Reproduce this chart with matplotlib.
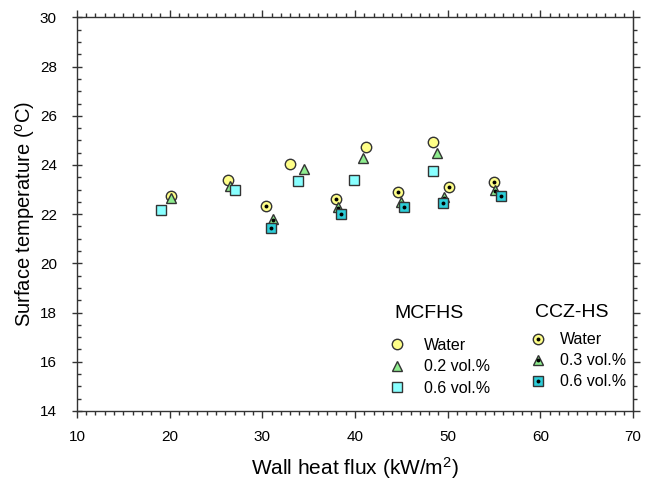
import matplotlib
matplotlib.use('Agg')
import matplotlib.pyplot as plt
from matplotlib.ticker import MultipleLocator, NullFormatter

plt.rcParams['font.family'] = ['Liberation Sans', 'DejaVu Sans']
plt.rcParams['mathtext.default'] = 'regular'

# MCFHS heat sink
mc_water_x = [20.1, 26.3, 33.0, 41.2, 48.4]
mc_water_y = [22.75, 23.4, 24.02, 24.74, 24.92]
mc_02_x = [20.1, 26.5, 34.5, 40.9, 48.8]
mc_02_y = [22.65, 23.15, 23.85, 24.3, 24.5]
mc_06_x = [19.1, 27.0, 33.8, 39.9, 48.4]
mc_06_y = [22.15, 23.0, 23.35, 23.4, 23.75]

# CCZ-HS heat sink
cz_water_x = [30.4, 37.9, 44.6, 50.1, 55.0]
cz_water_y = [22.32, 22.62, 22.9, 23.1, 23.32]
cz_03_x = [31.1, 38.2, 45.0, 49.6, 55.1]
cz_03_y = [21.82, 22.3, 22.5, 22.68, 23.0]
cz_06_x = [30.9, 38.5, 45.3, 49.5, 55.7]
cz_06_y = [21.45, 22.02, 22.28, 22.45, 22.72]

yellow = '#ffff88'
green = '#8eec8e'
cyan = '#88ffff'
cyan_dark = '#2ccdd8'
edge = '#333333'

fig = plt.figure(figsize=(6.52, 4.84), dpi=100)
ax = fig.add_axes([0.118, 0.151, 0.853, 0.813])

ms = 7.5
base = dict(ls='none', mec=edge, mew=1.0, ms=ms)
dot = dict(ls='none', marker='o', color='black', ms=2.8, mew=0)

h_mw, = ax.plot(mc_water_x, mc_water_y, marker='o', mfc=yellow, **base)
h_m2, = ax.plot(mc_02_x, mc_02_y, marker='^', mfc=green, **base)
h_m6, = ax.plot(mc_06_x, mc_06_y, marker='s', mfc=cyan, **base)

h_cw, = ax.plot(cz_water_x, cz_water_y, marker='o', mfc=yellow, **base)
d_cw, = ax.plot(cz_water_x, cz_water_y, **dot)
h_c3, = ax.plot(cz_03_x, cz_03_y, marker='^', mfc=green, **base)
d_c3, = ax.plot(cz_03_x, [v - 0.04 for v in cz_03_y], **dot)
h_c6, = ax.plot(cz_06_x, cz_06_y, marker='s', mfc=cyan_dark, **base)
d_c6, = ax.plot(cz_06_x, cz_06_y, **dot)

ax.set_xlim(10, 70)
ax.set_ylim(14, 30)
ax.xaxis.set_major_locator(MultipleLocator(10))
ax.xaxis.set_minor_locator(MultipleLocator(1))
ax.yaxis.set_major_locator(MultipleLocator(2))
ax.yaxis.set_minor_locator(MultipleLocator(0.5))

ax.tick_params(axis='both', which='major', labelsize=11, length=5, width=1, color=edge)
ax.tick_params(axis='both', which='minor', length=3, width=1, color=edge)
ax.tick_params(axis='x', which='both', direction='out', top=True)
ax.tick_params(axis='x', which='major', pad=9)
ax.tick_params(axis='y', which='both', direction='in')
ax.tick_params(axis='y', which='major', direction='inout', length=7, pad=11)
for s in ax.spines.values():
    s.set_color(edge)
    s.set_linewidth(1)

# right-hand ticks point outward
sec = ax.secondary_yaxis('right')
sec.yaxis.set_major_locator(MultipleLocator(2))
sec.yaxis.set_minor_locator(MultipleLocator(0.5))
sec.yaxis.set_major_formatter(NullFormatter())
sec.tick_params(which='major', direction='out', length=5, width=1, color=edge)
sec.tick_params(which='minor', direction='out', length=3, width=1, color=edge)
sec.spines['right'].set_color(edge)

ax.set_xlabel('Wall heat flux (kW/m$^{2}$)', fontsize=15, labelpad=8)
ax.set_ylabel('Surface temperature ($^{o}$C)', fontsize=14.5, labelpad=2)

leg1 = ax.legend([h_mw, h_m2, h_m6], ['Water', '0.2 vol.%', '0.6 vol.%'],
                 title='MCFHS', title_fontsize=14, fontsize=11.5, frameon=False,
                 loc='upper left', bbox_to_anchor=(0.55, 0.297),
                 handlelength=0.4, handletextpad=1.47, labelspacing=0.42,
                 borderpad=0.2)
leg1._legend_box.align = 'left'
leg1._legend_box.sep = 11
ax.add_artist(leg1)

leg2 = ax.legend([(h_cw, d_cw), (h_c3, d_c3), (h_c6, d_c6)],
                 ['Water', '0.3 vol.%', '0.6 vol.%'],
                 title='CCZ-HS', title_fontsize=14, fontsize=11.5, frameon=False,
                 loc='upper left', bbox_to_anchor=(0.804, 0.30),
                 handlelength=0.4, handletextpad=1.16, labelspacing=0.38,
                 borderpad=0.2)
leg2._legend_box.align = 'left'
leg2._legend_box.sep = 8

fig.savefig('out.png', dpi=100)
